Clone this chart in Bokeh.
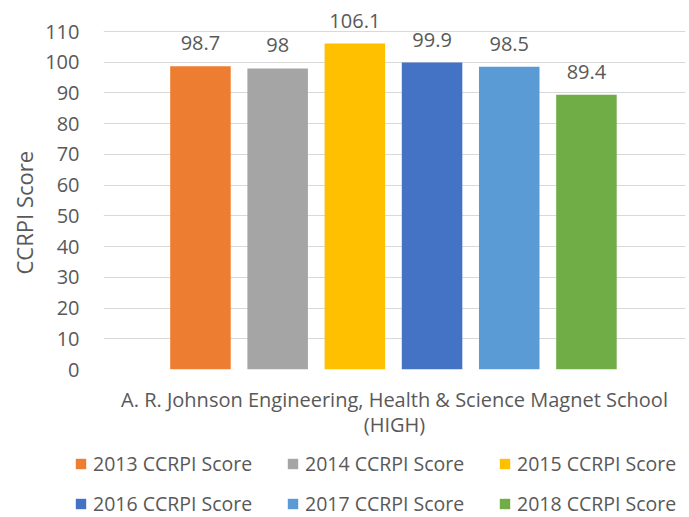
from bokeh.plotting import figure
from bokeh.models import ColumnDataSource, Range1d, FixedTicker, Legend, LegendItem, Title
from bokeh.layouts import column
from bokeh.core.properties import value
from bokeh.embed import file_html
from bokeh.resources import INLINE

# ---- data ----
years = ["2013", "2014", "2015", "2016", "2017", "2018"]
scores = [98.7, 98, 106.1, 99.9, 98.5, 89.4]
series_names = [f"{y} CCRPI Score" for y in years]
school = "A. R. Johnson Engineering, Health & Science Magnet School\n(HIGH)"
y_title = "CCRPI Score"
y_ticks = [0, 10, 20, 30, 40, 50, 60, 70, 80, 90, 100, 110]

# ---- style ----
colors = ["#ED7D31", "#A5A5A5", "#FFC000", "#4472C4", "#5B9BD5", "#70AD47"]
FONT = "Open Sans"
TXT = "#595959"

xs = list(range(len(years)))
src = ColumnDataSource(dict(
    x=xs, top=scores, color=colors, name=series_names,
    label=[f"{v:g}" for v in scores],
))

# ---------------- main chart ----------------
p = figure(width=689, height=440, output_backend="svg", toolbar_location=None,
           x_range=Range1d(-1.256, 6.283), y_range=Range1d(0, 117.5),
           min_border_left=103, min_border_right=4, min_border_top=8,
           min_border_bottom=71)
p.frame_align = False
p.outline_line_color = None
p.background_fill_color = "white"
p.border_fill_color = "white"

bars = p.vbar(x="x", top="top", width=0.784, color="color", line_color=None, source=src)

p.text(x="x", y="top", text="label", source=src, text_align="center",
       text_baseline="middle", y_offset=-23, text_font=value(FONT),
       text_font_size="20px", text_color=TXT)

# y axis
p.yaxis.ticker = FixedTicker(ticks=y_ticks)
p.yaxis.axis_line_color = None
p.yaxis.major_tick_line_color = None
p.yaxis.minor_tick_line_color = None
p.yaxis.major_label_standoff = 18
p.yaxis.major_label_text_font = FONT
p.yaxis.major_label_text_font_size = "20px"
p.yaxis.major_label_text_color = TXT

# y axis title (placed so it is centred on the 0-110 span)
p.add_layout(Title(text=y_title, align="left", offset=95, vertical_align="middle",
                   standoff=6, text_font=FONT, text_font_size="22px",
                   text_font_style="normal", text_color=TXT), "left")

# x axis (category label only)
p.xaxis.ticker = FixedTicker(ticks=[])
p.xaxis.axis_line_color = None
p.xaxis.major_tick_line_color = None
p.xaxis.minor_tick_line_color = None
p.xaxis.axis_label = school
p.xaxis.axis_label_text_font = FONT
p.xaxis.axis_label_text_font_size = "20px"
p.xaxis.axis_label_text_font_style = "normal"
p.xaxis.axis_label_text_color = TXT
p.xaxis.axis_label_text_line_height = 0.93
p.xaxis.axis_label_standoff = 16

p.xgrid.grid_line_color = None
p.ygrid.ticker = FixedTicker(ticks=y_ticks)
p.ygrid.grid_line_color = "#D9D9D9"
p.ygrid.grid_line_width = 1

# ---------------- legend strip ----------------
lg = figure(width=689, height=77, output_backend="svg", toolbar_location=None,
            x_range=Range1d(-100, -99), y_range=Range1d(-100, -99),
            x_axis_location=None, y_axis_location=None,
            min_border_left=0, min_border_right=0, min_border_top=0, min_border_bottom=0)
lg.frame_align = False
lg.outline_line_color = None
lg.grid.grid_line_color = None
lg.background_fill_color = "white"
lg.border_fill_color = "white"
lbars = lg.vbar(x="x", top="top", width=0.78, color="color", line_color=None, source=src)

items = [LegendItem(label=series_names[i], renderers=[lbars], index=i) for i in range(len(years))]
legend = Legend(items=items, location=(74, 0), orientation="horizontal", ncols=3,
                glyph_width=13, glyph_height=13, label_standoff=6, label_width=180,
                label_height=20, spacing=13, padding=0, margin=0,
                border_line_color=None, background_fill_alpha=0,
                label_text_font=FONT, label_text_font_size="19.5px", label_text_color=TXT)
lg.add_layout(legend, "center")

layout = column(p, lg, spacing=0)
open("out.html", "w").write(file_html(layout, INLINE))
